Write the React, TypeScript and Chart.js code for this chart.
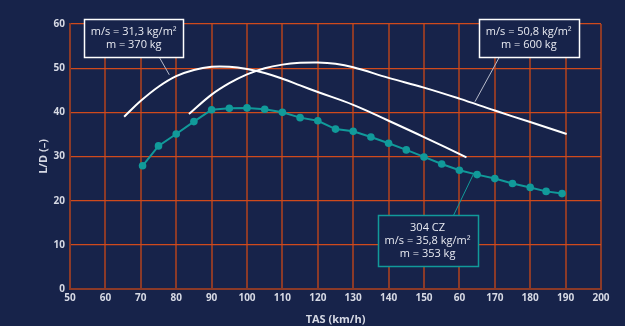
import React, { useEffect, useRef } from "react";
import { Chart, registerables } from "chart.js";

Chart.register(...registerables);

// Teal series: 304 CZ
const tasCZ = [70.5, 75, 80, 85, 90, 95, 100, 105, 110, 115, 120, 125, 130, 135, 140, 145, 150, 155, 160, 165, 170, 175, 180, 184.5, 189];
const ldCZ = [27.9, 32.4, 35.1, 37.9, 40.6, 40.9, 41.0, 40.7, 40.0, 38.8, 38.1, 36.2, 35.7, 34.4, 33.0, 31.5, 29.9, 28.3, 26.9, 25.9, 25.0, 23.9, 23.0, 22.1, 21.6];

// White curve: m/s = 31,3 kg/m², m = 370 kg
const tasA = [65.3, 70, 75, 80, 85, 90, 95, 100, 105, 110, 115, 120, 130, 140, 150, 162];
const ldA = [39.0, 42.6, 45.8, 48.2, 49.6, 50.3, 50.3, 49.8, 48.9, 47.6, 46.1, 44.6, 41.7, 38.1, 34.4, 29.8];

// White curve: m/s = 50,8 kg/m², m = 600 kg
const tasB = [83.6, 90, 95, 100, 105, 110, 115, 120, 125, 130, 140, 150, 160, 170, 180, 190.3];
const ldB = [39.6, 44.0, 46.6, 48.6, 50.0, 50.8, 51.2, 51.3, 51.0, 50.2, 47.8, 45.6, 43.1, 40.4, 37.8, 35.1];

// Tick labels (as printed in the source, incl. "60" at 160)
const xTickValues = [50, 60, 70, 80, 90, 100, 110, 120, 130, 140, 150, 160, 170, 180, 190, 200];
const xTickLabels = ["50", "60", "70", "80", "90", "100", "110", "120", "130", "140", "150", "60", "170", "180", "190", "200"];

const labelA = ["m/s = 31,3 kg/m²", "m = 370 kg"];
const labelB = ["m/s = 50,8 kg/m²", "m = 600 kg"];
const labelC = ["304 CZ", "m/s = 35,8 kg/m²", "m = 353 kg"];

const BG = "#17234a";
const TEAL = "#119a9a";
const HGRID = "#cf4a1c";
const VGRID = "#8c3a28";
const TEXT = "#d6d9e4";
const FONT = "'Open Sans', 'Noto Sans', sans-serif";

type Note = {
  lines: string[];
  cx: number; cy: number; w: number; h: number;
  from: [number, number]; to: [number, number];
  border: string; leader: string;
};

const notes: Note[] = [
  { lines: labelA, cx: 68.0, cy: 56.8, w: 99, h: 38, from: [75.2, 52.5], to: [78.05, 48.5], border: "#ffffff", leader: "#b8bccb" },
  { lines: labelB, cx: 179.6, cy: 56.8, w: 100, h: 38, from: [171.3, 52.5], to: [164.4, 42.4], border: "#ffffff", leader: "#b8bccb" },
  { lines: labelC, cx: 151.0, cy: 10.9, w: 100, h: 51, from: [158.3, 16.6], to: [163.9, 25.9], border: TEAL, leader: TEAL },
];

const notesPlugin = {
  id: "notes",
  afterDatasetsDraw(chart: any) {
    const ctx = chart.ctx;
    const xs = chart.scales.x;
    const ys = chart.scales.y;
    ctx.save();
    for (const n of notes) {
      ctx.strokeStyle = n.leader;
      ctx.lineWidth = 1;
      ctx.beginPath();
      ctx.moveTo(xs.getPixelForValue(n.from[0]), ys.getPixelForValue(n.from[1]));
      ctx.lineTo(xs.getPixelForValue(n.to[0]), ys.getPixelForValue(n.to[1]));
      ctx.stroke();
      const cx = xs.getPixelForValue(n.cx);
      const cy = ys.getPixelForValue(n.cy);
      const x0 = Math.round(cx - n.w / 2) + 0.5;
      const y0 = Math.round(cy - n.h / 2) + 0.5;
      ctx.fillStyle = BG;
      ctx.fillRect(x0, y0, n.w, n.h);
      ctx.strokeStyle = n.border;
      ctx.lineWidth = 1.5;
      ctx.strokeRect(x0, y0, n.w, n.h);
      ctx.fillStyle = "#e8eaf1";
      ctx.font = `11px ${FONT}`;
      ctx.textAlign = "center";
      ctx.textBaseline = "middle";
      const lh = 13;
      const start = cy - ((n.lines.length - 1) * lh) / 2;
      n.lines.forEach((t, i) => ctx.fillText(t, cx, start + i * lh));
    }
    ctx.restore();
  },
};

const bgPlugin = {
  id: "bg",
  beforeDraw(chart: any) {
    const ctx = chart.ctx;
    ctx.save();
    ctx.fillStyle = BG;
    ctx.fillRect(0, 0, chart.width, chart.height);
    ctx.restore();
  },
};

export default function App() {
  const ref = useRef<HTMLCanvasElement | null>(null);
  useEffect(() => {
    document.body.style.margin = "0";
    document.body.style.background = BG;
    if (!ref.current) return;
    const chart = new Chart(ref.current, {
      type: "line",
      data: {
        datasets: [
          {
            label: "A",
            data: tasA.map((x, i) => ({ x, y: ldA[i] })),
            borderColor: "#ffffff",
            borderWidth: 2,
            pointRadius: 0,
            tension: 0.4,
          },
          {
            label: "B",
            data: tasB.map((x, i) => ({ x, y: ldB[i] })),
            borderColor: "#ffffff",
            borderWidth: 2,
            pointRadius: 0,
            tension: 0.4,
          },
          {
            label: "304 CZ",
            data: tasCZ.map((x, i) => ({ x, y: ldCZ[i] })),
            borderColor: TEAL,
            backgroundColor: TEAL,
            borderWidth: 2,
            pointRadius: 3.8,
            pointBorderWidth: 0,
            tension: 0,
          },
        ],
      },
      options: {
        responsive: false,
        animation: false,
        layout: { padding: { top: 24, right: 24, left: 0, bottom: 0 } },
        plugins: { legend: { display: false }, tooltip: { enabled: false } },
        scales: {
          x: {
            type: "linear",
            min: 50,
            max: 200,
            afterBuildTicks: (s: any) => {
              s.ticks = xTickValues.map((v) => ({ value: v }));
            },
            afterFit: (s: any) => {
              s.height = 37;
            },
            ticks: {
              color: TEXT,
              font: { family: FONT, size: 10, weight: "bold" },
              padding: 3,
              maxRotation: 0,
              autoSkip: false,
              callback: (v: any) => {
                const i = xTickValues.indexOf(Number(v));
                return i >= 0 ? xTickLabels[i] : "";
              },
            },
            grid: { color: VGRID, lineWidth: 2, drawTicks: false },
            border: { color: VGRID, width: 2 },
            title: {
              display: true,
              text: "TAS (km/h)",
              color: TEXT,
              font: { family: FONT, size: 11, weight: "bold" },
              padding: { top: 0, bottom: 0 },
            },
          },
          y: {
            min: 0,
            max: 60,
            ticks: {
              stepSize: 10,
              color: TEXT,
              font: { family: FONT, size: 10, weight: "bold" },
              padding: 5,
            },
            afterFit: (s: any) => {
              s.width = 70;
            },
            grid: { color: HGRID, lineWidth: 1.2, drawTicks: false },
            border: { color: VGRID, width: 2 },
            title: {
              display: true,
              text: "L/D (–)",
              color: TEXT,
              font: { family: FONT, size: 11, weight: "bold" },
              padding: { top: 37, bottom: 0 },
            },
          },
        },
      },
      plugins: [bgPlugin, notesPlugin],
    } as any);
    return () => chart.destroy();
  }, []);
  return <canvas ref={ref} width={625} height={326} style={{ display: "block" }} />;
}
